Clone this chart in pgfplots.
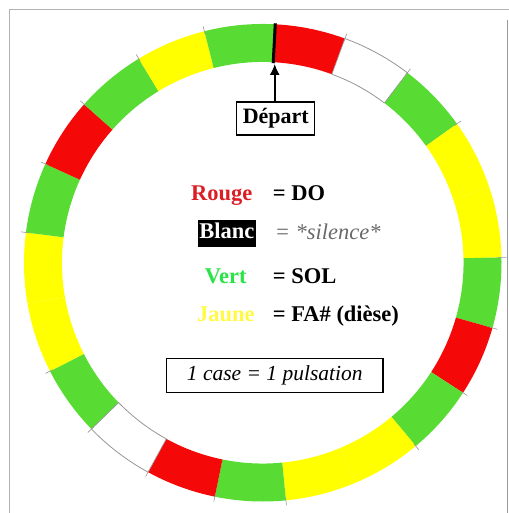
\documentclass[border=0pt]{standalone}
\usepackage{pgfplots}
\pgfplotsset{compat=1.18}
\usepackage{fontspec}
\setmainfont{Liberation Serif}
\usetikzlibrary{arrows.meta}
\definecolor{ringred}{RGB}{245,8,8}
\definecolor{ringgreen}{RGB}{88,220,52}
\definecolor{ringyellow}{RGB}{255,255,0}
\definecolor{txtred}{RGB}{218,30,38}
\definecolor{txtgreen}{RGB}{40,228,70}
\definecolor{txtyellow}{RGB}{255,250,70}
\definecolor{txtgray}{RGB}{105,105,105}
\definecolor{edgegray}{RGB}{150,150,150}
% one case = 1/21 of the ring; start offset 3 deg clockwise from top
\newcommand\seg[2]{%
  \fill[#2] (axis cs:{263+239*cos(87-#1*360/21)},{263-239*sin(87-#1*360/21)})
    arc[start angle={87-#1*360/21}, end angle={87-(#1+1)*360/21}, radius=239pt]
    -- (axis cs:{263+201*cos(87-(#1+1)*360/21)},{263-201*sin(87-(#1+1)*360/21)})
    arc[start angle={87-(#1+1)*360/21}, end angle={87-#1*360/21}, radius=201pt] -- cycle;}
\newcommand\wseg[1]{%
  \draw[edgegray, line width=0.8pt] (axis cs:{263+239*cos(87-#1*360/21)},{263-239*sin(87-#1*360/21)})
    arc[start angle={87-#1*360/21}, end angle={87-(#1+1)*360/21}, radius=239pt];
  \draw[edgegray, line width=0.8pt] (axis cs:{263+201*cos(87-#1*360/21)},{263-201*sin(87-#1*360/21)})
    arc[start angle={87-#1*360/21}, end angle={87-(#1+1)*360/21}, radius=201pt];}
\newcommand\tick[1]{%
  \draw[edgegray, line width=0.6pt] (axis cs:{263+236*cos(87-#1*360/21)},{263-236*sin(87-#1*360/21)})
    -- (axis cs:{263+244*cos(87-#1*360/21)},{263-244*sin(87-#1*360/21)});}
\newcommand\radial[1]{%
  \draw[edgegray, line width=0.6pt] (axis cs:{263+201*cos(87-#1*360/21)},{263-201*sin(87-#1*360/21)})
    -- (axis cs:{263+239*cos(87-#1*360/21)},{263-239*sin(87-#1*360/21)});}
\begin{document}
\begin{tikzpicture}
\begin{axis}[x=1pt, y=1pt, y dir=reverse, xmin=0, xmax=509, ymin=0, ymax=513,
  hide axis, clip=false]
\path (axis cs:0,0) rectangle (axis cs:509,513);
% frame
\draw[gray!60, line width=0.8pt] (axis cs:9,513) -- (axis cs:9,9) -- (axis cs:509,9);
\draw[gray!80, line width=1pt] (axis cs:508,20) -- (axis cs:508,513);
% ring: R W G Y Y G R G Y Y G R W G Y Y G R G Y G
\seg{0}{ringred}
\seg{1}{white}
\seg{2}{ringgreen}
\seg{3}{ringyellow}
\seg{4}{ringyellow}
\seg{5}{ringgreen}
\seg{6}{ringred}
\seg{7}{ringgreen}
\seg{8}{ringyellow}
\seg{9}{ringyellow}
\seg{10}{ringgreen}
\seg{11}{ringred}
\seg{12}{white}
\seg{13}{ringgreen}
\seg{14}{ringyellow}
\seg{15}{ringyellow}
\seg{16}{ringgreen}
\seg{17}{ringred}
\seg{18}{ringgreen}
\seg{19}{ringyellow}
\seg{20}{ringgreen}
\wseg{1}
\wseg{12}
\tick{1}\tick{2}\tick{3}\tick{5}\tick{6}\tick{7}\tick{8}\tick{10}\tick{11}
\tick{12}\tick{13}\tick{14}\tick{16}\tick{17}\tick{18}\tick{19}\tick{20}
\radial{1}\radial{2}\radial{12}\radial{13}
% start mark
\draw[black, line width=3pt] (axis cs:{263+200*cos(87)},{263-200*sin(87)}) -- (axis cs:{263+240*cos(87)},{263-240*sin(87)});
\draw[-{Latex[length=11pt,width=10pt]}, line width=1.8pt] (axis cs:275,102) -- (axis cs:275,64);
\node[draw, line width=1.4pt, inner sep=0pt, minimum width=78pt, minimum height=33pt,
  font=\fontsize{22}{26}\selectfont\bfseries] at (axis cs:276,118.5) {Départ};
% legend
\node[anchor=base, text=txtred, font=\fontsize{22.5}{26}\selectfont\bfseries] at (axis cs:222,201) {Rouge};
\node[anchor=base west, inner sep=0pt, font=\fontsize{22.5}{26}\selectfont\bfseries] at (axis cs:273,201) {= DO};
\node[anchor=base, fill=black, text=white, inner xsep=1.5pt, inner ysep=0pt,
  text height=19pt, text depth=8pt, font=\fontsize{22.5}{26}\selectfont\bfseries] at (axis cs:227,239) {Blanc};
\node[anchor=base west, inner sep=0pt, text=txtgray, font=\fontsize{22.5}{26}\selectfont\itshape] at (axis cs:275,240) {= *silence*};
\node[anchor=base, text=txtgreen, font=\fontsize{22.5}{26}\selectfont\bfseries] at (axis cs:226,284) {Vert};
\node[anchor=base west, inner sep=0pt, font=\fontsize{22.5}{26}\selectfont\bfseries] at (axis cs:273,284) {= SOL};
\node[anchor=base, text=txtyellow, font=\fontsize{22.5}{26}\selectfont\bfseries] at (axis cs:226,322) {Jaune};
\node[anchor=base west, inner sep=0pt, font=\fontsize{22.5}{26}\selectfont\bfseries] at (axis cs:273,322) {= FA\# (dièse)};
\node[draw, line width=1.4pt, minimum width=217pt, minimum height=34pt, inner sep=0pt,
  font=\fontsize{21.5}{25}\selectfont\itshape] at (axis cs:275,376) {1 case = 1 pulsation};
\end{axis}
\end{tikzpicture}
\end{document}
